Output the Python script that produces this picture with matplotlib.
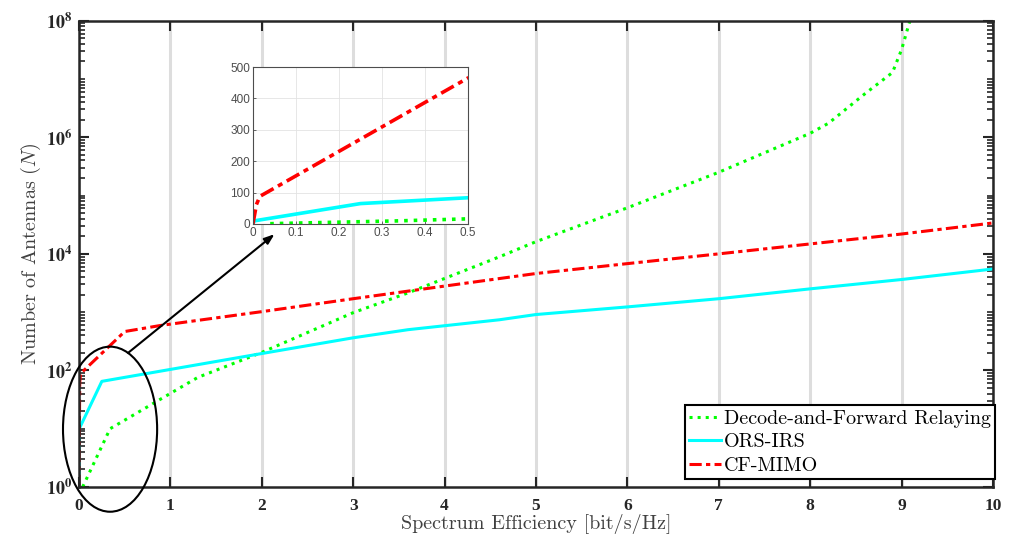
import numpy as np
import matplotlib.pyplot as plt
from matplotlib.patches import Ellipse
from matplotlib.ticker import FixedLocator, NullFormatter

plt.rcParams['mathtext.fontset'] = 'stix'

# Decode-and-Forward Relaying
df_x = [0.04, 0.34, 0.89, 1.3, 2, 3, 3.6, 4.6, 5, 6, 7, 8, 8.2, 8.6, 8.9, 9.0, 9.1]
df_n = [1, 10, 32, 76, 204, 980, 2140, 8900, 16200, 61700, 2.51e5, 1.17e6,
        1.74e6, 5.6e6, 1.29e7, 3.2e7, 1.12e8]

# ORS-IRS
ors_x = [0, 0.003, 0.25, 2, 3, 3.6, 4.6, 5, 6, 7, 8, 9, 10]
ors_n = [1, 10, 65, 195, 363, 500, 740, 910, 1230, 1700, 2510, 3630, 5500]

# CF-MIMO
cf_x = [0, 0.008, 0.016, 0.5, 0.89, 2, 3, 4, 5, 6, 7, 8, 9, 10]
cf_n = [1, 62, 88, 465, 590, 1020, 1700, 2800, 4600, 6800, 10000, 14800, 21900, 33900]

x_ticks = list(range(0, 11))
y_ticks = [10 ** k for k in range(0, 9, 2)]
inset_xticks = [0, 0.1, 0.2, 0.3, 0.4, 0.5]
inset_yticks = [0, 100, 200, 300, 400, 500]

green = '#00ff00'
cyan = '#00ffff'
red = '#ff0000'
dashdot = (0, (4, 1.4, 1.4, 1.4))
dark = '#262626'


def draw_lines(a, lw):
    a.plot(df_x, df_n, color=green, ls=':', lw=lw, label='Decode-and-Forward Relaying')
    a.plot(ors_x, ors_n, color=cyan, ls='-', lw=lw, label='ORS-IRS')
    a.plot(cf_x, cf_n, color=red, ls=dashdot, lw=lw, label='CF-MIMO')


fig = plt.figure(figsize=(10.14, 5.43), dpi=100)
ax = fig.add_axes([0.0779, 0.1031, 0.9014, 0.8588])
draw_lines(ax, 2.2)

ax.set_yscale('log')
ax.set_xlim(0, 10)
ax.set_ylim(1, 1e8)
ax.set_xticks(x_ticks, labels=[str(v) for v in x_ticks],
              fontfamily='Liberation Serif', fontweight='bold', fontsize=12.5)
ax.set_yticks(y_ticks, labels=[r'$\mathbf{10^{%d}}$' % round(np.log10(v)) for v in y_ticks],
              fontsize=13)
minors = [m * 10 ** k for k in range(8) for m in range(1, 10) if not (m == 1 and k % 2 == 0)]
ax.yaxis.set_minor_locator(FixedLocator(minors))
ax.yaxis.set_minor_formatter(NullFormatter())
ax.xaxis.set_minor_locator(FixedLocator([]))
ax.tick_params(which='both', direction='in', top=True, right=True, colors=dark)
ax.tick_params(which='major', length=7, width=1.5, pad=5)
ax.tick_params(axis='x', which='major', pad=8)
ax.tick_params(which='minor', length=4, width=1.2)
ax.xaxis.grid(True, color='#dddddd', lw=2.2)
ax.set_axisbelow(True)
for s in ax.spines.values():
    s.set_linewidth(1.8)
    s.set_color(dark)

ax.set_xlabel('Spectrum Efficiency [bit/s/Hz]', family='cmr10', fontsize=14.5,
              color='#404040', labelpad=0)
ax.set_ylabel('Number of Antennas ($N$)', family='cmr10', fontsize=14.5,
              color='#404040', labelpad=2, math_fontfamily='cm')

leg = ax.legend(loc='lower right', bbox_to_anchor=(1.002, 0.017), borderaxespad=0,
                prop={'family': 'cmr10', 'size': 14.5}, handlelength=1.6,
                handletextpad=0.15, labelspacing=0.28, borderpad=0.2,
                fancybox=False, framealpha=1, edgecolor='black')
leg.get_frame().set_linewidth(1.5)

# highlight ellipse
ell = Ellipse((0.034, 0.124), 0.103, 0.354, transform=ax.transAxes, fill=False,
              edgecolor='black', lw=1.5, clip_on=False, zorder=5)
ax.add_patch(ell)

# inset
axins = fig.add_axes([0.2495, 0.5875, 0.2120, 0.2891])
draw_lines(axins, 2.6)
axins.set_xlim(0, 0.5)
axins.set_ylim(0, 500)
axins.set_xticks(inset_xticks, labels=['0' if v == 0 else str(v) for v in inset_xticks],
                 fontfamily='Liberation Sans', fontsize=8.5, color='#4d4d4d')
axins.set_yticks(inset_yticks, labels=[str(v) for v in inset_yticks],
                 fontfamily='Liberation Sans', fontsize=8.5, color='#4d4d4d')
axins.tick_params(direction='in', length=2.5, width=0.6, colors='#4d4d4d', pad=2)
axins.grid(True, color='#e3e3e3', lw=0.6)
axins.set_axisbelow(True)
for s in axins.spines.values():
    s.set_linewidth(0.8)
    s.set_color('#4d4d4d')

ax.annotate('', xy=(0.05, -0.065), xycoords=axins.get_xaxis_transform(),
            xytext=(0.0537, 0.2876), textcoords=ax.transAxes,
            arrowprops=dict(arrowstyle='-|>,head_length=0.6,head_width=0.22', color='black',
                            lw=1.5, shrinkA=0, shrinkB=0),
            annotation_clip=False, zorder=6)

fig.savefig('out.png', dpi=100)
